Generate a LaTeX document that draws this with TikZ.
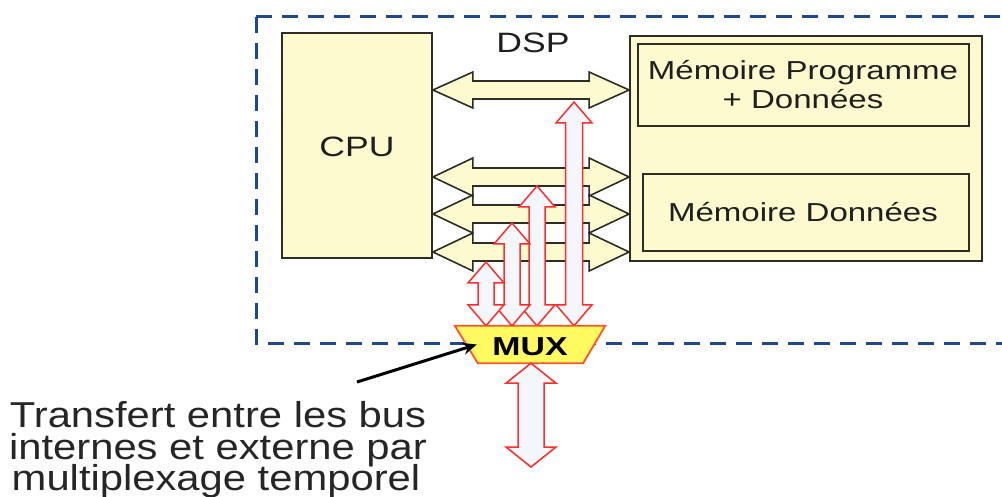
\documentclass[tikz,border=0pt]{standalone}
\usepackage{fontspec}
\setmainfont{Liberation Sans}
\usepackage{graphicx}
\usetikzlibrary{calc,arrows.meta}

\definecolor{cream}{RGB}{252,250,206}
\definecolor{edgegray}{RGB}{45,45,38}
\definecolor{dspblue}{RGB}{30,72,140}
\definecolor{busred}{RGB}{255,45,45}
\definecolor{busfill}{RGB}{243,246,250}
\definecolor{muxyellow}{RGB}{255,250,95}
\definecolor{muxedge}{RGB}{255,85,40}

% horizontally widened label text
\newcommand\wtext[2][1.27]{\scalebox{#1}[1]{#2}}

% horizontal double arrow: left end, right end, shaft half-height, head half-height
\newcommand\hbus[4]{%
  \filldraw[cpubus] let \p1=(#1), \p2=(#2) in
    (\p1) -- (\x1+40pt,\y1+#4) -- (\x1+40pt,\y1+#3) -- (\x2-40pt,\y1+#3)
    -- (\x2-40pt,\y1+#4) -- (\p2) -- (\x2-40pt,\y1-#4) -- (\x2-40pt,\y1-#3)
    -- (\x1+40pt,\y1-#3) -- (\x1+40pt,\y1-#4) -- cycle;}

% vertical double arrow: lower end, upper end, shaft half-width, head half-width, head length
\newcommand\vbus[5]{%
  \filldraw[muxbus] let \p1=(#1), \p2=(#2) in
    (\x1,\y1) -- (\x1+#4,\y1+#5) -- (\x1+#3,\y1+#5) -- (\x1+#3,\y2-#5)
    -- (\x1+#4,\y2-#5) -- (\x1,\y2) -- (\x1-#4,\y2-#5) -- (\x1-#3,\y2-#5)
    -- (\x1-#3,\y1+#5) -- (\x1-#4,\y1+#5) -- cycle;}

\tikzset{
  block/.style={draw=edgegray, fill=cream, line width=1.8pt, inner sep=0pt},
  cpubus/.style={draw=edgegray, fill=cream, line width=1.6pt, line join=miter},
  muxbus/.style={draw=busred, fill=busfill, line width=1.5pt, line join=miter},
  dspframe/.style={draw=dspblue, line width=3pt, dash pattern=on 16pt off 10pt},
  lbl/.style={anchor=base, inner sep=0pt, text=black!88},
  note/.style={anchor=base, inner sep=0pt, text=black!85, font=\fontsize{36}{32}\selectfont},
}

\begin{document}
\begin{tikzpicture}[x=1pt, y=-1pt]
\useasboundingbox (0,0) rectangle (1002,497);
\fill[white] (0,0) rectangle (1002,497);

% DSP boundary (open towards the right edge)
\draw[dspframe] (256,17) -- (1030,17);
\draw[dspframe] (256,17) -- (256,343) -- (1030,343);
\node[lbl, font=\fontsize{28}{32}\selectfont] (dsp) at (533,53) {\wtext{DSP}};

% processor and memories
\node[block, minimum width=150pt, minimum height=225pt] (cpu) at (357,145.5) {};
\node[lbl, font=\fontsize{28}{32}\selectfont] (cpulbl) at (357,157) {\wtext{CPU}};

\node[block, minimum width=352pt, minimum height=225pt] (mem) at (806,148.5) {};
\node[block, minimum width=331pt, minimum height=82pt] (memp) at (803.5,85) {};
\node[block, minimum width=326pt, minimum height=77pt] (memd) at (806,212.5) {};
\node[lbl, font=\fontsize{26}{30}\selectfont] (mp1) at (803,80) {\wtext{Mémoire Programme}};
\node[lbl, font=\fontsize{26}{30}\selectfont] (mp2) at (803,109) {\wtext{+ Données}};
\node[lbl, font=\fontsize{26}{30}\selectfont] (mdl) at (803,222) {\wtext{Mémoire Données}};

% internal buses between CPU and memories
\coordinate (row0) at (0,90);
\coordinate (row1) at (0,177);
\coordinate (row2) at (0,214);
\coordinate (row3) at (0,252);
\hbus{cpu.east |- row0}{mem.west |- row0}{9pt}{18pt}
\hbus{cpu.east |- row1}{mem.west |- row1}{9pt}{19pt}
\hbus{cpu.east |- row2}{mem.west |- row2}{9pt}{19pt}
\hbus{cpu.east |- row3}{mem.west |- row3}{9pt}{19pt}

% multiplexer
\node[minimum width=150pt, minimum height=37pt, inner sep=0pt] (mux) at (530,344.5) {};

% links from each bus down to the multiplexer
\coordinate (tD) at (574,102);
\coordinate (tC) at (537,186);
\coordinate (tB) at (512,223);
\coordinate (tA) at (486,262);
\vbus{tD |- mux.north}{tD}{8.5pt}{18pt}{21pt}
\vbus{tC |- mux.north}{tC}{8pt}{18pt}{21pt}
\vbus{tB |- mux.north}{tB}{8pt}{18pt}{21pt}
\vbus{tA |- mux.north}{tA}{8pt}{18pt}{21pt}

\filldraw[fill=muxyellow, draw=muxedge, line width=1.8pt, line join=miter]
  (mux.north west) -- (mux.north east) -- ([xshift=-22pt]mux.south east)
  -- ([xshift=23pt]mux.south west) -- cycle;
\node[lbl, font=\bfseries\fontsize{26}{30}\selectfont, text=black] (muxlbl) at (530,355) {\wtext[1.3]{MUX}};

% external bus
\coordinate (ext) at (531,467);
\vbus{ext}{ext |- mux.south}{13pt}{25pt}{20pt}

% annotation
\node[note] (n1) at (218,427) {\wtext[1.16]{Transfert entre les bus}};
\node[note] (n2) at (218,459) {\wtext[1.16]{internes et externe par}};
\node[note] (n3) at (216,490) {\wtext[1.16]{multiplexage temporel}};
\coordinate (nstart) at (357,382);
\draw[line width=3pt, -{Stealth[length=14pt, width=12pt]}] (nstart) -- ([xshift=22pt]mux.west);
\end{tikzpicture}
\end{document}
